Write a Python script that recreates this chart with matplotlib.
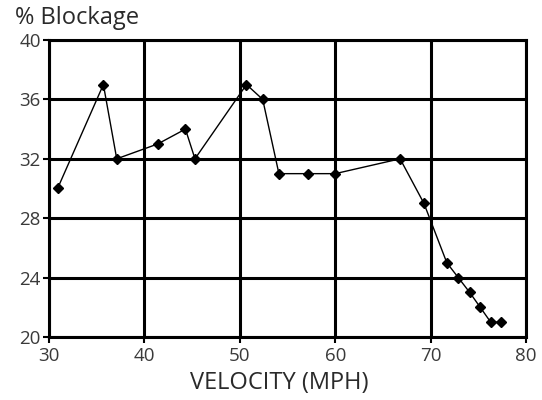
import matplotlib
matplotlib.use("Agg")
import matplotlib.pyplot as plt

velocity = [30.9, 35.7, 37.1, 41.4, 44.3, 45.3, 50.7, 52.4, 54.1, 57.2, 60.0, 66.8, 69.3, 71.7, 72.9, 74.1, 75.2, 76.3, 77.4]
blockage = [30, 37, 32, 33, 34, 32, 37, 36, 31, 31, 31, 32, 29, 25, 24, 23, 22, 21, 21]
xticks = [30, 40, 50, 60, 70, 80]
yticks = [20, 24, 28, 32, 36, 40]

plt.rcParams['font.family'] = ['Open Sans', 'DejaVu Sans']

fig = plt.figure(figsize=(5.42, 4.0), dpi=100)
ax = fig.add_axes([0.0904, 0.1575, 0.8801, 0.7425])
ax.set_xlim(30, 80)
ax.set_ylim(20, 40)
ax.set_xticks(xticks)
ax.set_yticks(yticks)
ax.grid(True, color='black', linewidth=2.2)
ax.set_axisbelow(True)
for s in ax.spines.values():
    s.set_linewidth(2.2)
ax.tick_params(axis='both', length=4, width=1.5, labelsize=13.5, labelcolor='#3a3a3a',
               color='black', direction='out')
ax.tick_params(axis='y', pad=2)
ax.tick_params(axis='x', pad=3)
ax.plot(velocity, blockage, color='black', linewidth=1.0, marker='D', markersize=5.5,
        markerfacecolor='black', markeredgecolor='black', clip_on=False, zorder=3)
fig.text(0.028, 0.955, '% Blockage', fontsize=17, color='#2a2a2a', va='center', ha='left')
fig.text(0.516, 0.042, 'VELOCITY (MPH)', fontsize=17, color='#2a2a2a', va='center', ha='center')
fig.savefig('out.png', dpi=100)
